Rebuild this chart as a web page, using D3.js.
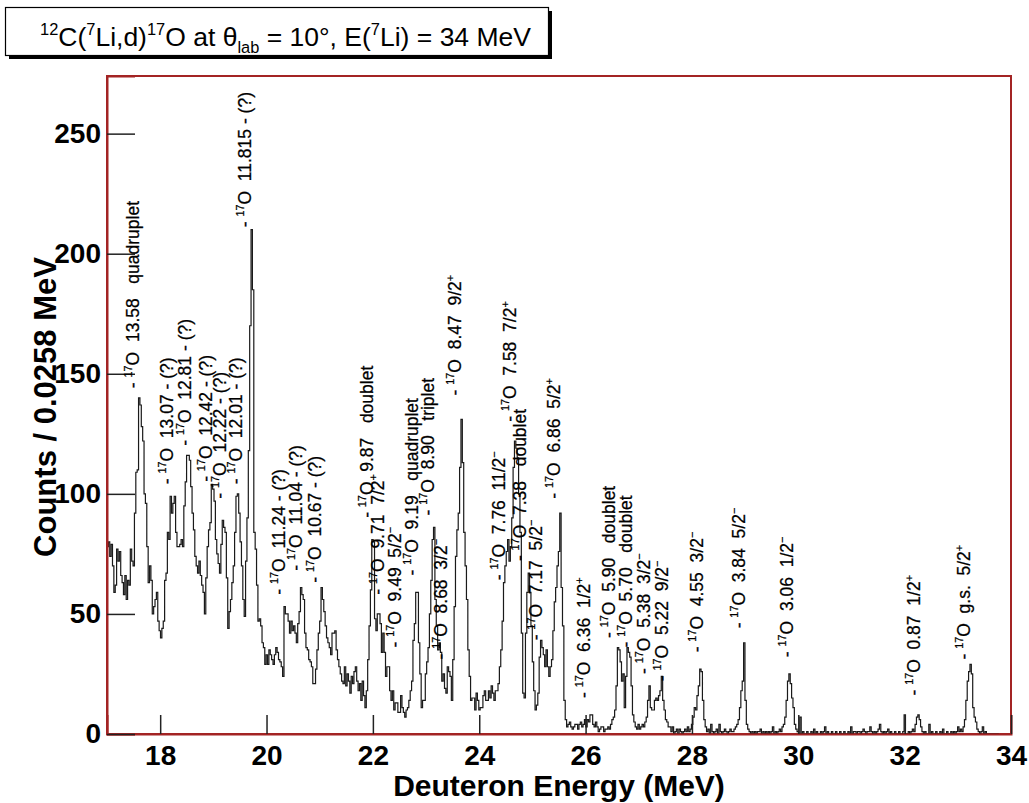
<!DOCTYPE html>
<html>
<head>
<meta charset="utf-8">
<script src="https://cdn.jsdelivr.net/npm/d3@7"></script>
<style>
  body { margin: 0; background: #fff; }
  svg { display: block; font-family: "Liberation Sans", Arial, Helvetica, sans-serif; }
</style>
</head>
<body>
<svg id="chart" width="1029" height="803"></svg>
<script>
// ---- data ----
const binLow = 17.0;
const binWidth = 0.0258;   // MeV per channel
const counts = [
  78, 80, 74, 79, 70, 59, 62, 77, 72, 76,
  66, 63, 58, 66, 56, 64, 62, 77, 72, 70,
  92, 109, 110, 140, 137, 128, 122, 100, 96, 78,
  63, 70, 64, 50, 53, 56, 59, 47, 43, 40,
  44, 47, 64, 67, 84, 81, 99, 92, 96, 99,
  84, 78, 78, 79, 81, 78, 95, 105, 116, 116,
  114, 103, 92, 85, 74, 70, 67, 72, 66, 62,
  59, 50, 65, 78, 85, 88, 104, 102, 97, 81,
  75, 71, 67, 79, 89, 86, 84, 65, 44, 51,
  56, 63, 70, 84, 99, 100, 92, 80, 70, 56,
  49, 72, 90, 118, 170, 210, 185, 84, 77, 62,
  47, 48, 45, 38, 36, 29, 33, 29, 35, 33,
  31, 29, 33, 36, 34, 31, 30, 28, 24, 53,
  50, 50, 47, 42, 47, 43, 45, 42, 38, 46,
  51, 61, 58, 56, 42, 36, 35, 31, 30, 28,
  21, 21, 27, 35, 42, 47, 61, 56, 51, 45,
  40, 38, 36, 33, 42, 42, 43, 35, 31, 28,
  25, 22, 21, 28, 20, 25, 22, 17, 24, 21,
  26, 28, 22, 18, 21, 14, 22, 16, 11, 18,
  31, 45, 60, 81, 80, 48, 43, 50, 50, 46,
  34, 42, 34, 24, 28, 28, 18, 14, 18, 10,
  13, 13, 9, 9, 16, 11, 9, 7, 10, 11,
  14, 18, 22, 39, 46, 59, 59, 38, 25, 11,
  14, 14, 25, 30, 36, 50, 64, 81, 86, 56,
  45, 35, 38, 34, 22, 25, 19, 17, 28, 26,
  24, 14, 31, 53, 74, 85, 92, 111, 131, 113,
  84, 70, 56, 35, 24, 14, 15, 15, 10, 17,
  14, 10, 11, 11, 16, 18, 14, 14, 18, 15,
  20, 17, 14, 18, 18, 21, 28, 35, 47, 63,
  70, 76, 81, 72, 78, 90, 111, 122, 119, 115,
  100, 84, 42, 17, 15, 42, 59, 67, 59, 45,
  30, 18, 10, 12, 17, 32, 39, 36, 33, 28,
  35, 28, 24, 28, 31, 43, 55, 61, 70, 76,
  92, 61, 45, 14, 6, 3, 4, 5, 3, 2,
  3, 4, 4, 2, 4, 5, 3, 4, 6, 3,
  6, 5, 8, 8, 4, 3, 5, 3, 1, 2,
  3, 3, 1, 2, 2, 3, 2, 4, 6, 7,
  10, 20, 36, 35, 30, 22, 25, 11, 24, 36,
  34, 32, 20, 8, 5, 3, 2, 4, 2, 3,
  4, 3, 5, 7, 14, 20, 11, 10, 10, 14,
  15, 14, 16, 18, 24, 14, 10, 6, 5, 3,
  3, 1, 3, 0, 1, 2, 0, 2, 1, 0,
  1, 2, 1, 3, 1, 2, 4, 7, 11, 10,
  16, 20, 27, 26, 14, 6, 3, 1, 2, 0,
  4, 1, 0, 1, 2, 0, 4, 1, 0, 1,
  2, 1, 0, 1, 2, 1, 1, 2, 3, 4,
  6, 11, 18, 22, 38, 14, 4, 2, 1, 0,
  1, 0, 1, 0, 1, 1, 2, 0, 1, 0,
  1, 0, 1, 0, 1, 3, 0, 1, 0, 1,
  2, 1, 3, 4, 7, 14, 22, 25, 21, 15,
  11, 4, 2, 1, 0, 7, 0, 1, 0, 0,
  1, 0, 0, 1, 0, 2, 0, 1, 0, 0,
  1, 0, 1, 3, 0, 1, 0, 0, 1, 0,
  0, 1, 0, 0, 1, 0, 0, 1, 0, 0,
  1, 0, 3, 0, 1, 1, 0, 1, 1, 0,
  1, 2, 1, 0, 1, 1, 3, 1, 0, 1,
  0, 1, 2, 4, 1, 0, 1, 0, 1, 2,
  0, 1, 0, 0, 1, 0, 0, 1, 0, 0,
  1, 8, 0, 0, 1, 0, 1, 2, 1, 4,
  7, 8, 6, 3, 1, 0, 1, 0, 0, 4,
  0, 1, 0, 0, 1, 0, 0, 1, 0, 2,
  0, 0, 1, 0, 0, 1, 0, 1, 0, 1,
  3, 1, 2, 1, 3, 6, 14, 22, 26, 29,
  25, 11, 7, 5, 2, 1, 0, 1, 3, 0,
  1, 0, 0, 0, 0, 0, 0, 0, 0, 0
];

const xMajorTicks = [18, 20, 22, 24, 26, 28, 30, 32, 34];
const yMajorTicks = [0, 50, 100, 150, 200, 250];

// peak labels: excitation energy in 17O, spin/note, where the label sits (MeV, counts)
const labelState = ["13.58", "13.07", "12.81", "12.42", "12.22", "12.01", "11.815",
  "11.24", "11.04", "10.67", "9.87", "9.71", "9.49", "9.19", "8.90", "8.68", "8.47",
  "7.76", "7.58", "7.38", "7.17", "6.86", "6.36", "5.90", "5.70", "5.38", "5.22",
  "4.55", "3.84", "3.06", "0.87", "g.s."];
const labelNote = ["quadruplet", "- (?)", "- (?)", "- (?)", "- (?)", "- (?)", "- (?)",
  "- (?)", "- (?)", "- (?)", "doublet", "7/2+", "5/2-", "quadruplet", "triplet", "3/2-", "9/2+",
  "11/2-", "7/2+", "doublet", "5/2-", "5/2+", "1/2+", "doublet", "doublet", "3/2-", "9/2-",
  "3/2-", "5/2-", "1/2-", "1/2+", "5/2+"];
const labelE = [17.60, 18.24, 18.58, 18.97, 19.23, 19.54, 19.71,
  20.35, 20.67, 21.02, 22.00, 22.21, 22.53, 22.85, 23.14, 23.39, 23.66,
  24.49, 24.70, 24.88, 25.18, 25.52, 26.08, 26.56, 26.87, 27.21, 27.55,
  28.21, 29.00, 29.90, 32.28, 33.23];
const labelCount = [144, 104, 120, 105, 98, 104, 211,
  58, 68, 63, 90, 58, 36, 66, 91, 31, 141,
  64, 130, 72, 39, 98, 15, 40, 36, 25, 22,
  34, 44, 32, 16, 31];

// ---- layout ----
const M = { left: 107, right: 1011, top: 76, bottom: 734 };
const frameRed = "#a32424";
const svg = d3.select("#chart");

const x = d3.scaleLinear().domain([17, 34]).range([M.left, M.right]);
const y = d3.scaleLinear().domain([0, 274]).range([M.bottom, M.top]);

// rich text: parts with superscript / subscript via dy
function rich(t, parts, size) {
  let cur = 0;
  parts.forEach((p) => {
    const off = p.s === "sup" ? -0.40 * size : p.s === "sub" ? 0.28 * size : 0;
    t.append("tspan").attr("dy", off - cur)
      .attr("font-size", p.s ? size * 0.62 : size).text(p.t);
    cur = off;
  });
}

// frame
svg.append("rect").attr("x", M.left).attr("y", M.top)
  .attr("width", M.right - M.left).attr("height", M.bottom - M.top)
  .attr("fill", "#fff").attr("stroke", frameRed).attr("stroke-width", 2);

// histogram
const pts = counts.map((c, i) => [binLow + i * binWidth, c]);
pts.push([binLow + counts.length * binWidth, counts[counts.length - 1]]);
const line = d3.line().x((d) => x(d[0])).y((d) => y(d[1])).curve(d3.curveStepAfter);
svg.append("path").attr("d", line(pts))
  .attr("fill", "none").attr("stroke", "#1a1a1a").attr("stroke-width", 1.2);

// x axis
const xMinor = d3.range(17.5, 34, 0.5).filter((v) => v % 2 !== 0);
const gx = svg.append("g").attr("transform", `translate(0,${M.bottom})`);
gx.call(d3.axisBottom(x).tickValues(xMinor).tickSize(-9).tickFormat(""));
gx.call(d3.axisBottom(x).tickValues(xMajorTicks).tickSize(-19).tickPadding(11).tickFormat(d3.format("d")));
gx.selectAll(".domain").attr("stroke", frameRed).attr("stroke-width", 2);
gx.selectAll(".tick line").attr("stroke", "#222").attr("stroke-width", 1.5);
gx.selectAll(".tick text").attr("font-size", 28).attr("font-weight", "bold").attr("fill", "#000")
  .attr("font-family", "Liberation Sans, Arial, sans-serif");

// y axis
const yMinor = d3.range(10, 271, 10).filter((v) => v % 50 !== 0);
const gy = svg.append("g").attr("transform", `translate(${M.left},0)`);
gy.call(d3.axisLeft(y).tickValues(yMinor).tickSize(-14).tickFormat(""));
gy.call(d3.axisLeft(y).tickValues(yMajorTicks).tickSize(-28).tickPadding(6).tickFormat(d3.format("d")));
gy.selectAll(".domain").attr("stroke", frameRed).attr("stroke-width", 2);
gy.selectAll(".tick line").attr("stroke", "#222").attr("stroke-width", 1.5);
gy.selectAll(".tick text").attr("font-size", 28).attr("font-weight", "bold").attr("fill", "#000")
  .attr("font-family", "Liberation Sans, Arial, sans-serif");

// axis titles
svg.append("text").attr("x", 559).attr("y", 796).attr("text-anchor", "middle")
  .attr("font-size", 30).attr("font-weight", "bold").text("Deuteron Energy (MeV)");
svg.append("text").attr("transform", "translate(56,407) rotate(-90)").attr("text-anchor", "middle")
  .attr("font-size", 31).attr("font-weight", "bold").text("Counts / 0.0258 MeV");

// peak labels
const NB = "\u00a0";
labelState.forEach((st, i) => {
  const t = svg.append("text")
    .attr("transform", `translate(${x(labelE[i])},${y(labelCount[i])}) rotate(-90)`)
    .attr("dy", "0.36em").attr("fill", "#000")
    .attr("stroke", "#000").attr("stroke-width", 0.25);
  const parts = [{ t: "-" + NB }, { t: "17", s: "sup" }, { t: "O" + NB + NB + st }];
  const note = labelNote[i];
  const m = note.match(/^(\d+\/2)([+-])$/);
  if (m) {
    parts.push({ t: NB + NB + m[1] }, { t: m[2] === "+" ? "+" : "\u2212", s: "sup" });
  } else if (note === "- (?)") {
    parts.push({ t: NB + note });
  } else {
    parts.push({ t: NB + NB + NB + note });
  }
  rich(t, parts, 17.5);
});

// title box
svg.append("rect").attr("x", 9).attr("y", 11).attr("width", 543).attr("height", 48).attr("fill", "#000");
svg.append("rect").attr("x", 5.5).attr("y", 7.5).attr("width", 543).attr("height", 48)
  .attr("fill", "#fff").attr("stroke", "#000").attr("stroke-width", 1.2);
const title = svg.append("text").attr("x", 40).attr("y", 46).attr("fill", "#000");
rich(title, [
  { t: "12", s: "sup" }, { t: "C(" }, { t: "7", s: "sup" }, { t: "Li,d)" }, { t: "17", s: "sup" },
  { t: "O at \u03b8" }, { t: "lab", s: "sub" }, { t: " = 10\u00b0, E(" }, { t: "7", s: "sup" },
  { t: "Li) = 34 MeV" }
], 26.5);
</script>
</body>
</html>
